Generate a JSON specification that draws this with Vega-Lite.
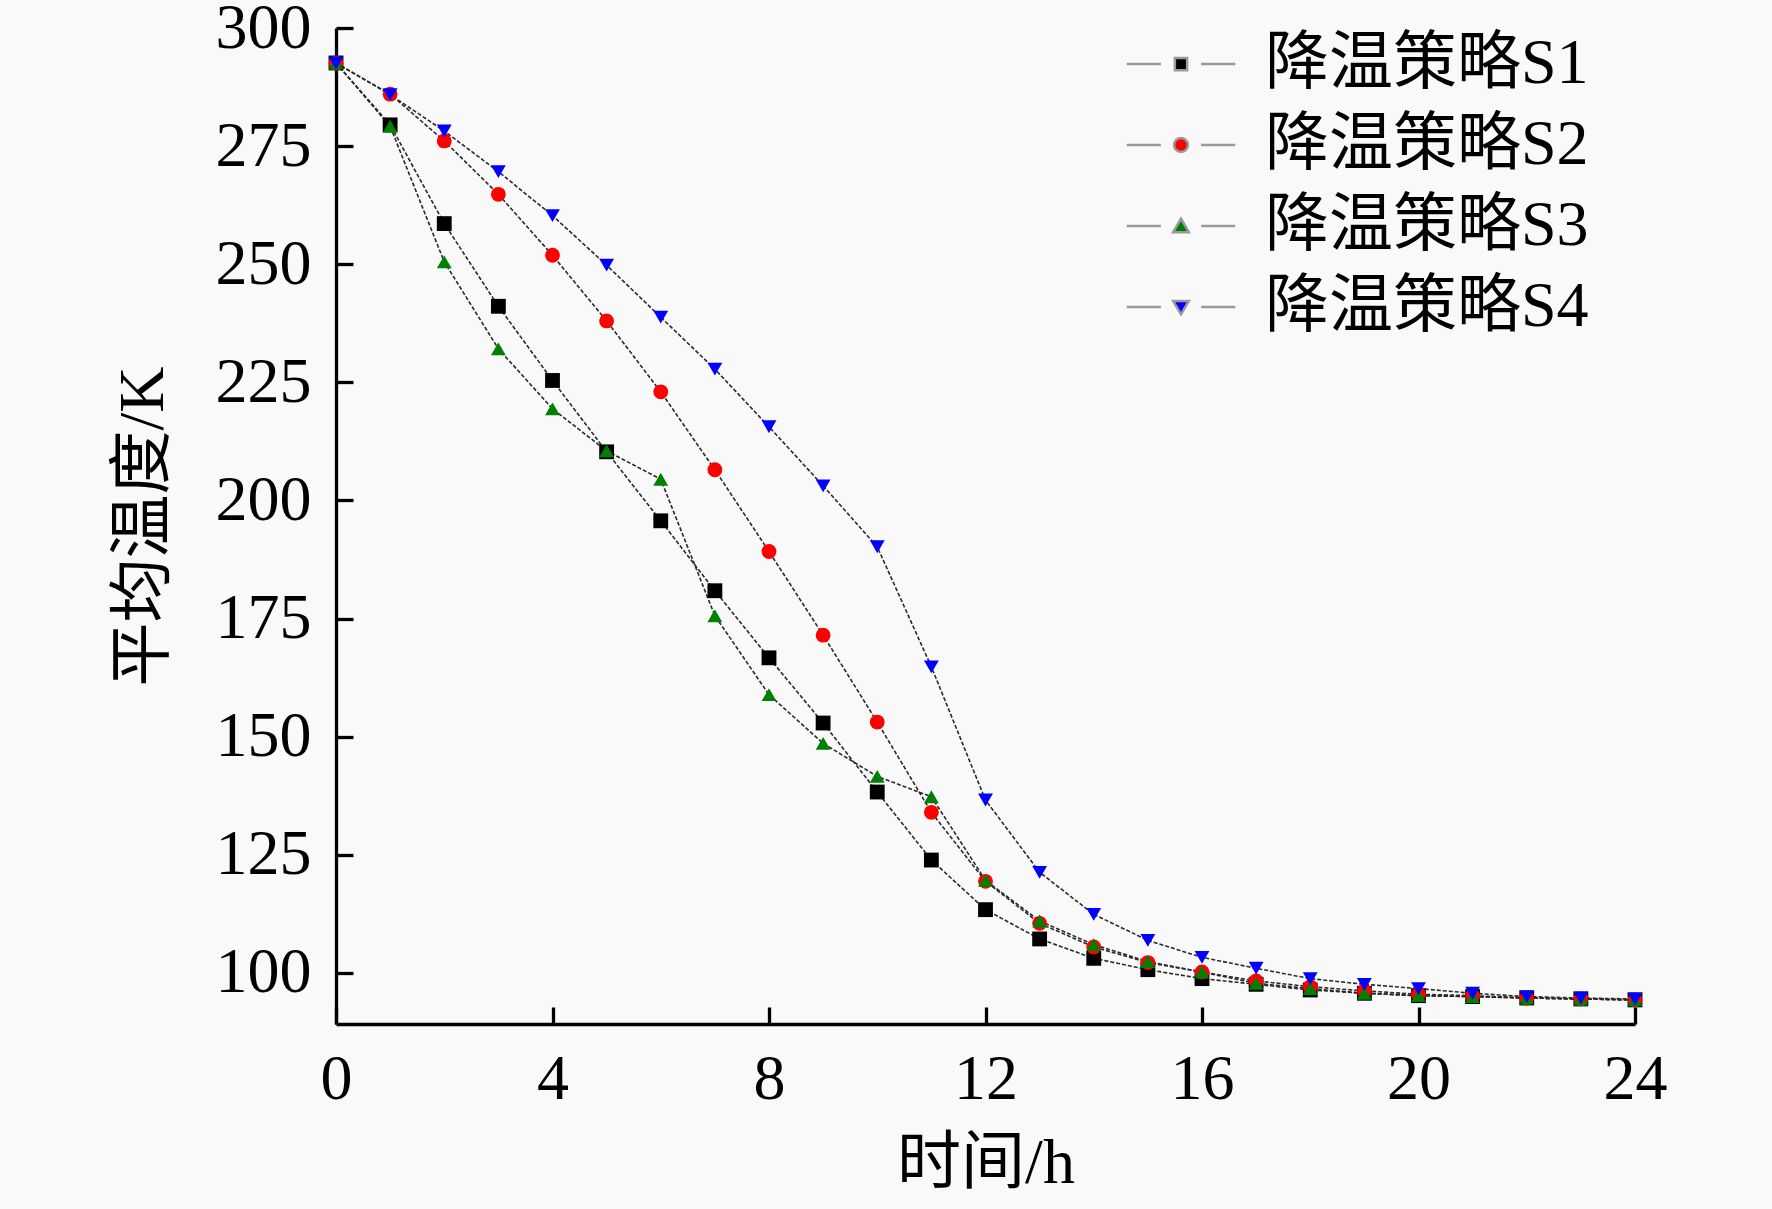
{
  "$schema": "https://vega.github.io/schema/vega-lite/v6.json",
  "autosize": {"type": "none"},
  "width": 1299,
  "height": 996,
  "padding": {"left": 336, "top": 28, "right": 137, "bottom": 185},
  "background": "#f9f9f9",
  "datasets": {
    "temps": [
      {"t": 0, "series": "降温策略S1", "temp": 292.6},
      {"t": 1, "series": "降温策略S1", "temp": 279.5},
      {"t": 2, "series": "降温策略S1", "temp": 258.6},
      {"t": 3, "series": "降温策略S1", "temp": 241.1},
      {"t": 4, "series": "降温策略S1", "temp": 225.4},
      {"t": 5, "series": "降温策略S1", "temp": 210.3},
      {"t": 6, "series": "降温策略S1", "temp": 195.7},
      {"t": 7, "series": "降温策略S1", "temp": 180.9},
      {"t": 8, "series": "降温策略S1", "temp": 166.7},
      {"t": 9, "series": "降温策略S1", "temp": 152.9},
      {"t": 10, "series": "降温策略S1", "temp": 138.3},
      {"t": 11, "series": "降温策略S1", "temp": 123.9},
      {"t": 12, "series": "降温策略S1", "temp": 113.4},
      {"t": 13, "series": "降温策略S1", "temp": 107.2},
      {"t": 14, "series": "降温策略S1", "temp": 103.1},
      {"t": 15, "series": "降温策略S1", "temp": 100.7},
      {"t": 16, "series": "降温策略S1", "temp": 98.8},
      {"t": 17, "series": "降温策略S1", "temp": 97.6},
      {"t": 18, "series": "降温策略S1", "temp": 96.4},
      {"t": 19, "series": "降温策略S1", "temp": 95.7},
      {"t": 20, "series": "降温策略S1", "temp": 95.2},
      {"t": 21, "series": "降温策略S1", "temp": 95.0},
      {"t": 22, "series": "降温策略S1", "temp": 94.7},
      {"t": 23, "series": "降温策略S1", "temp": 94.5},
      {"t": 24, "series": "降温策略S1", "temp": 94.3},
      {"t": 0, "series": "降温策略S2", "temp": 292.6},
      {"t": 1, "series": "降温策略S2", "temp": 286.0},
      {"t": 2, "series": "降温策略S2", "temp": 276.1},
      {"t": 3, "series": "降温策略S2", "temp": 264.8},
      {"t": 4, "series": "降温策略S2", "temp": 251.9},
      {"t": 5, "series": "降温策略S2", "temp": 238.0},
      {"t": 6, "series": "降温策略S2", "temp": 223.0},
      {"t": 7, "series": "降温策略S2", "temp": 206.5},
      {"t": 8, "series": "降温策略S2", "temp": 189.2},
      {"t": 9, "series": "降温策略S2", "temp": 171.5},
      {"t": 10, "series": "降温策略S2", "temp": 153.1},
      {"t": 11, "series": "降温策略S2", "temp": 134.0},
      {"t": 12, "series": "降温策略S2", "temp": 119.4},
      {"t": 13, "series": "降温策略S2", "temp": 110.5},
      {"t": 14, "series": "降温策略S2", "temp": 105.5},
      {"t": 15, "series": "降温策略S2", "temp": 102.2},
      {"t": 16, "series": "降温策略S2", "temp": 100.2},
      {"t": 17, "series": "降温策略S2", "temp": 98.3},
      {"t": 18, "series": "降温策略S2", "temp": 97.1},
      {"t": 19, "series": "降温策略S2", "temp": 96.2},
      {"t": 20, "series": "降温策略S2", "temp": 95.5},
      {"t": 21, "series": "降温策略S2", "temp": 95.2},
      {"t": 22, "series": "降温策略S2", "temp": 94.7},
      {"t": 23, "series": "降温策略S2", "temp": 94.5},
      {"t": 24, "series": "降温策略S2", "temp": 94.3},
      {"t": 0, "series": "降温策略S3", "temp": 292.6},
      {"t": 1, "series": "降温策略S3", "temp": 279.2},
      {"t": 2, "series": "降温策略S3", "temp": 250.5},
      {"t": 3, "series": "降温策略S3", "temp": 232.1},
      {"t": 4, "series": "降温策略S3", "temp": 219.4},
      {"t": 5, "series": "降温策略S3", "temp": 210.5},
      {"t": 6, "series": "降温策略S3", "temp": 204.5},
      {"t": 7, "series": "降温策略S3", "temp": 175.6},
      {"t": 8, "series": "降温策略S3", "temp": 158.9},
      {"t": 9, "series": "降温策略S3", "temp": 148.6},
      {"t": 10, "series": "降温策略S3", "temp": 141.6},
      {"t": 11, "series": "降温策略S3", "temp": 137.3},
      {"t": 12, "series": "降温策略S3", "temp": 119.6},
      {"t": 13, "series": "降温策略S3", "temp": 111.0},
      {"t": 14, "series": "降温策略S3", "temp": 106.0},
      {"t": 15, "series": "降温策略S3", "temp": 102.4},
      {"t": 16, "series": "降温策略S3", "temp": 100.2},
      {"t": 17, "series": "降温策略S3", "temp": 97.8},
      {"t": 18, "series": "降温策略S3", "temp": 96.7},
      {"t": 19, "series": "降温策略S3", "temp": 95.7},
      {"t": 20, "series": "降温策略S3", "temp": 95.2},
      {"t": 21, "series": "降温策略S3", "temp": 95.0},
      {"t": 22, "series": "降温策略S3", "temp": 94.7},
      {"t": 23, "series": "降温策略S3", "temp": 94.5},
      {"t": 24, "series": "降温策略S3", "temp": 94.3},
      {"t": 0, "series": "降温策略S4", "temp": 292.6},
      {"t": 1, "series": "降温策略S4", "temp": 285.9},
      {"t": 2, "series": "降温策略S4", "temp": 278.2},
      {"t": 3, "series": "降温策略S4", "temp": 269.6},
      {"t": 4, "series": "降温策略S4", "temp": 260.3},
      {"t": 5, "series": "降温策略S4", "temp": 249.8},
      {"t": 6, "series": "降温策略S4", "temp": 238.8},
      {"t": 7, "series": "降温策略S4", "temp": 227.8},
      {"t": 8, "series": "降温策略S4", "temp": 215.6},
      {"t": 9, "series": "降温策略S4", "temp": 203.1},
      {"t": 10, "series": "降温策略S4", "temp": 190.2},
      {"t": 11, "series": "降温策略S4", "temp": 164.8},
      {"t": 12, "series": "降温策略S4", "temp": 136.6},
      {"t": 13, "series": "降温策略S4", "temp": 121.3},
      {"t": 14, "series": "降温策略S4", "temp": 112.4},
      {"t": 15, "series": "降温策略S4", "temp": 106.9},
      {"t": 16, "series": "降温策略S4", "temp": 103.3},
      {"t": 17, "series": "降温策略S4", "temp": 101.0},
      {"t": 18, "series": "降温策略S4", "temp": 98.8},
      {"t": 19, "series": "降温策略S4", "temp": 97.6},
      {"t": 20, "series": "降温策略S4", "temp": 96.7},
      {"t": 21, "series": "降温策略S4", "temp": 95.7},
      {"t": 22, "series": "降温策略S4", "temp": 95.0},
      {"t": 23, "series": "降温策略S4", "temp": 94.7},
      {"t": 24, "series": "降温策略S4", "temp": 94.5}
    ]
  },
  "layer": [
    {
      "data": {"values": [{"limit": 110}]},
      "mark": {"type": "rule", "color": "#222", "strokeWidth": 1.6, "strokeDash": [2, 3]},
      "encoding": {
        "y": {"field": "limit", "type": "quantitative"}
      }
    },
    {
      "data": {"name": "temps"},
      "mark": {"type": "line", "color": "#2a2a2a", "strokeWidth": 1.6, "strokeDash": [4, 2]},
      "encoding": {
        "x": {"field": "t", "type": "quantitative"},
        "y": {"field": "temp", "type": "quantitative"},
        "detail": {"field": "series", "type": "nominal"}
      }
    },
    {
      "data": {"name": "temps"},
      "mark": {"type": "point", "filled": true, "size": 220, "opacity": 1},
      "encoding": {
        "x": {"field": "t", "type": "quantitative"},
        "y": {"field": "temp", "type": "quantitative"},
        "color": {
          "field": "series",
          "type": "nominal",
          "scale": {"range": ["#000000", "#ff0000", "#008000", "#0000ff"]},
          "legend": {
            "title": null,
            "orient": "none",
            "legendX": 813,
            "legendY": 4,
            "labelFontSize": 64,
            "labelFont": "Liberation Serif, Noto Sans CJK SC",
            "labelColor": "#000",
            "labelLimit": 0,
            "labelOffset": 52,
            "rowPadding": 17,
            "symbolSize": 1225,
            "symbolStrokeColor": "#9a9a9a",
            "symbolStrokeWidth": 2.5,
            "symbolType": {"expr": "'M-3.1,0H-1.15M1.15,0H3.1' + (datum.value === '降温策略S1' ? 'M-0.35,-0.35H0.35V0.35H-0.35Z' : datum.value === '降温策略S2' ? 'M-0.4,0A0.4,0.4 0 1,0 0.4,0A0.4,0.4 0 1,0 -0.4,0Z' : datum.value === '降温策略S3' ? 'M0,-0.42L0.45,0.35H-0.45Z' : 'M0,0.42L0.45,-0.35H-0.45Z')"}
          }
        },
        "shape": {
          "field": "series",
          "type": "nominal",
          "scale": {
            "domain": ["降温策略S1", "降温策略S2", "降温策略S3", "降温策略S4"],
            "range": ["square", "circle", "triangle-up", "triangle-down"]
          },
          "legend": null
        }
      }
    }
  ],
  "encoding": {
    "x": {
      "field": "t",
      "type": "quantitative",
      "title": "时间/h",
      "scale": {"domain": [0, 24], "nice": false},
      "axis": {"values": [0, 4, 8, 12, 16, 20, 24], "labelPadding": 40, "titlePadding": 20}
    },
    "y": {
      "field": "temp",
      "type": "quantitative",
      "title": "平均温度/K",
      "scale": {"domain": [89.2, 300], "nice": false, "zero": false},
      "axis": {"values": [100, 125, 150, 175, 200, 225, 250, 275, 300], "labelPadding": 42, "titlePadding": 40}
    }
  },
  "config": {
    "view": {"stroke": null},
    "axis": {
      "grid": false,
      "labelFlush": false,
      "domainColor": "#000",
      "domainWidth": 3.3,
      "tickColor": "#000",
      "tickWidth": 3.3,
      "tickSize": -17,
      "labelFont": "Liberation Serif",
      "labelFontSize": 64,
      "labelColor": "#000",
      "titleFont": "Liberation Serif, Noto Sans CJK SC",
      "titleFontSize": 64,
      "titleFontWeight": "normal",
      "titleColor": "#000"
    }
  }
}
